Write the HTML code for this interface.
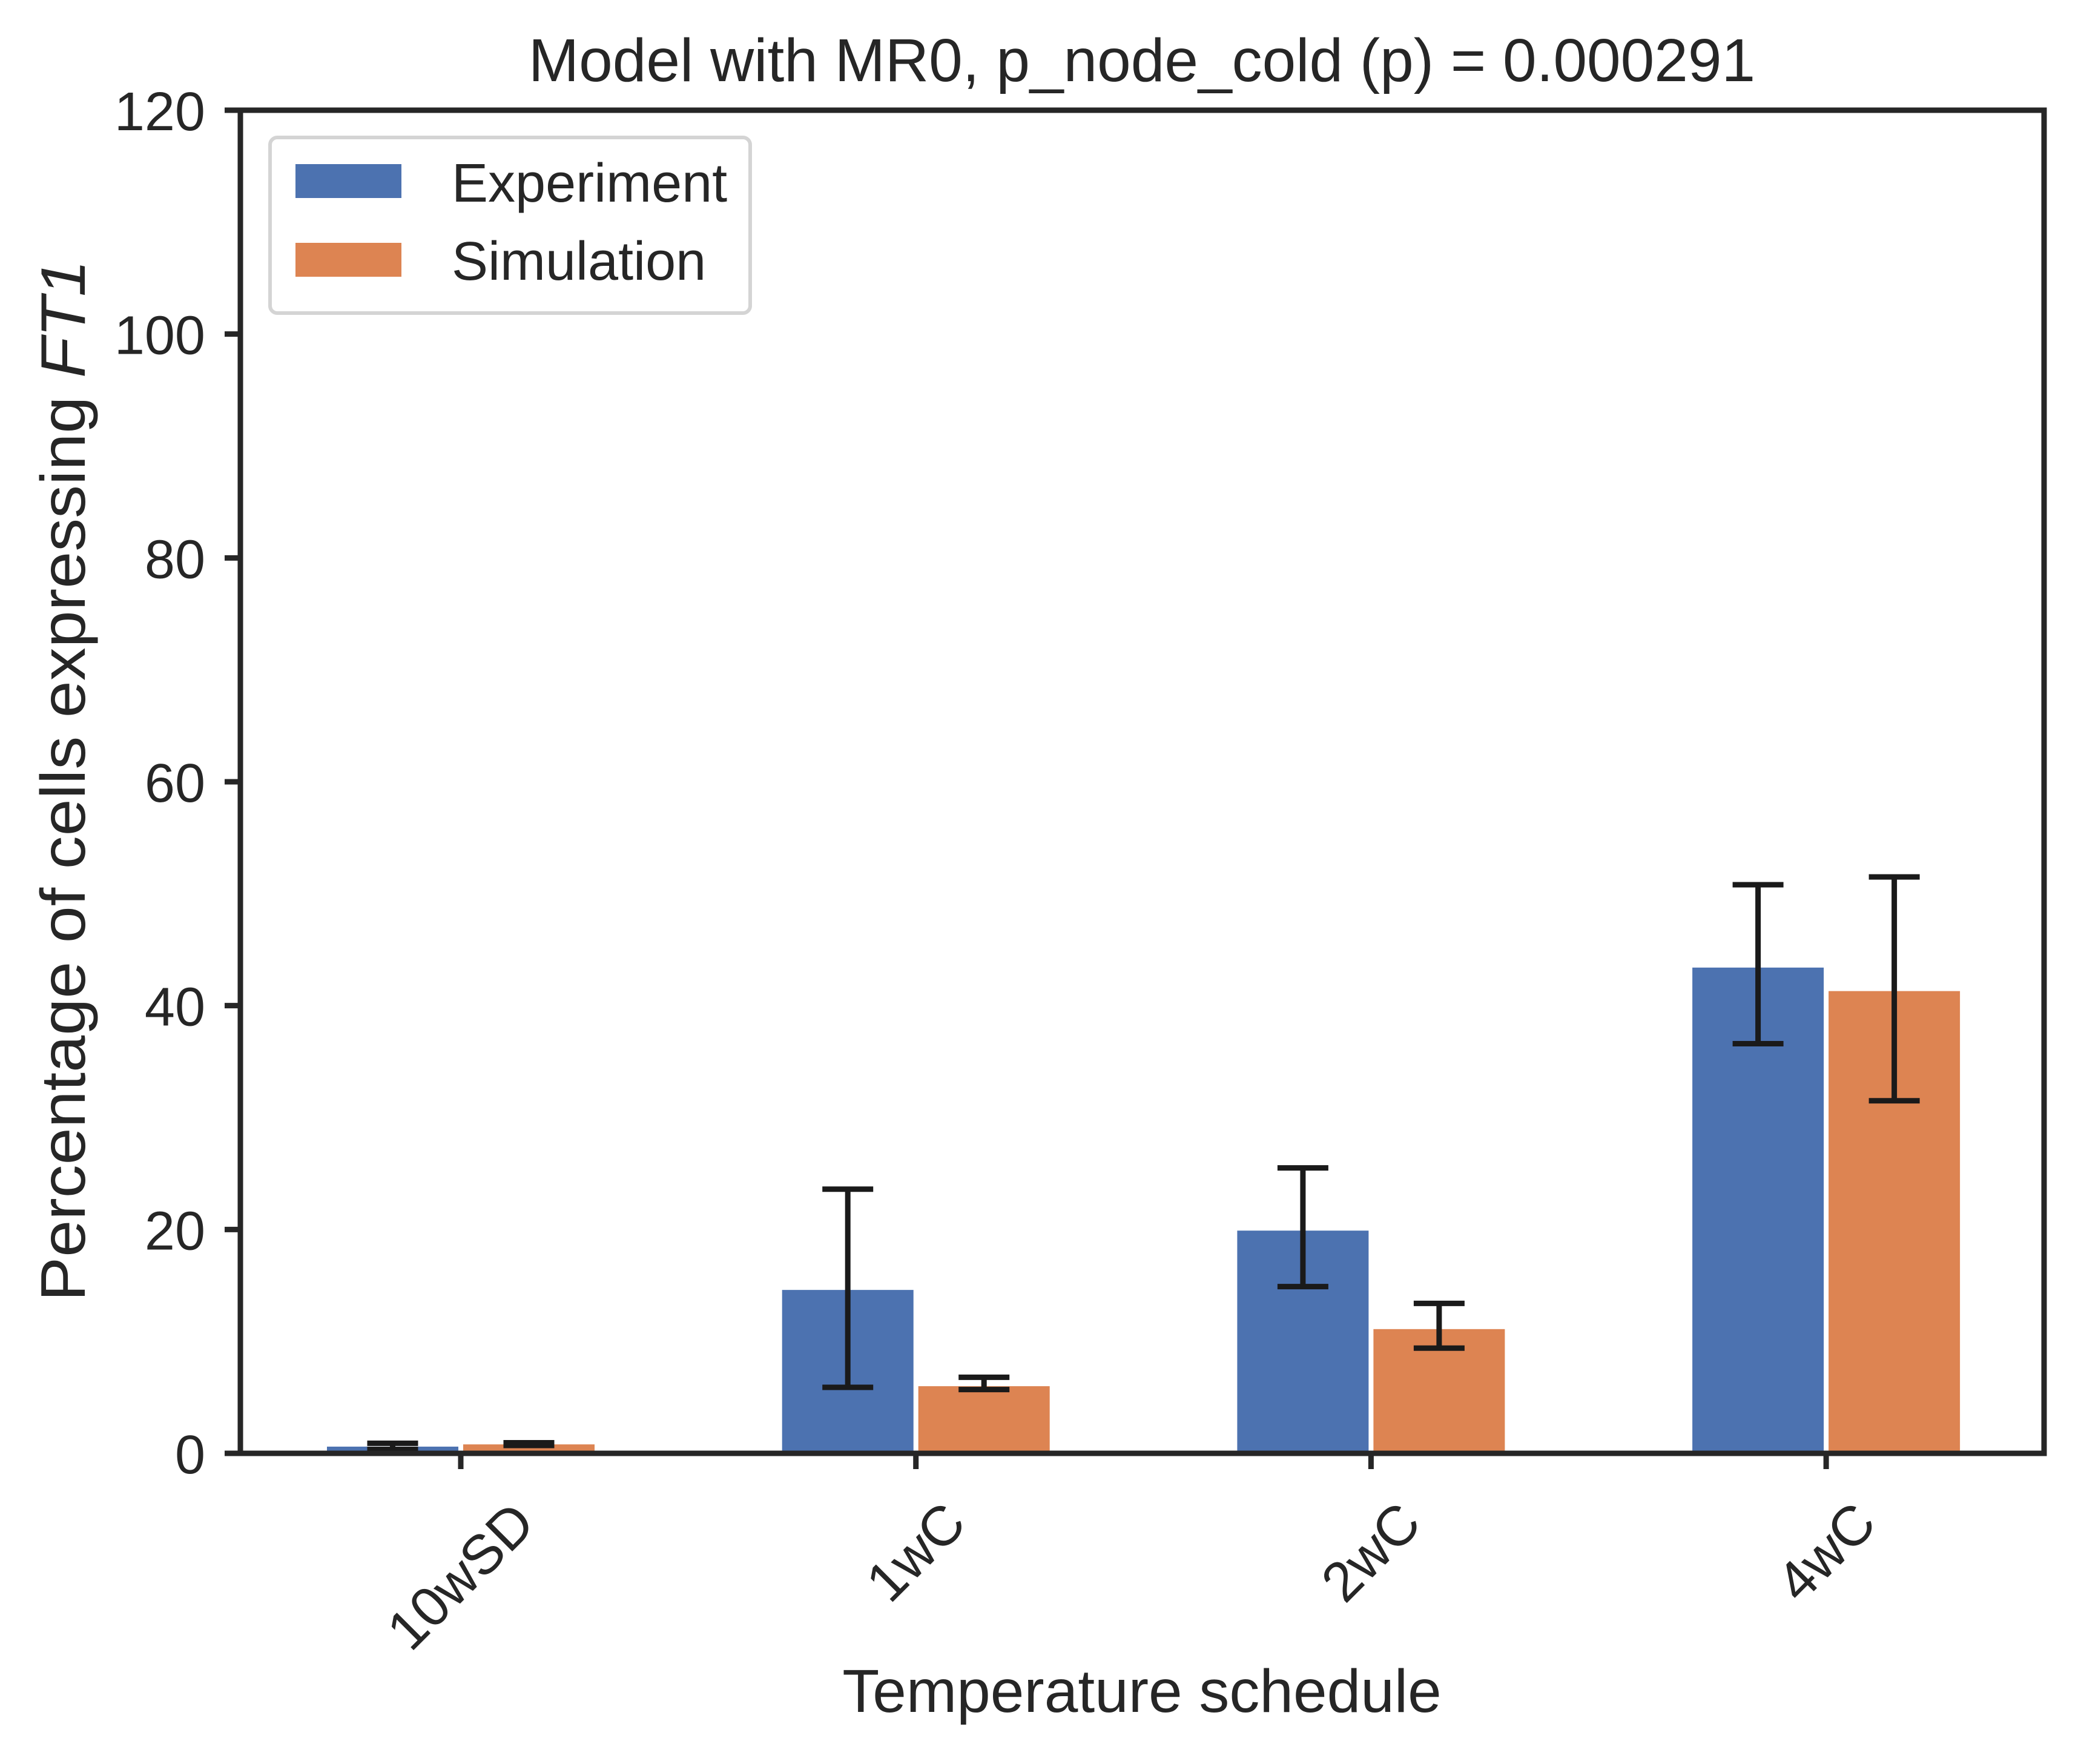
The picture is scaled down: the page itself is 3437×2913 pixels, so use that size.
<!DOCTYPE html>
<html><head><meta charset="utf-8"><style>
html,body{margin:0;padding:0;background:#fff}
svg text{font-family:"Liberation Sans",Arial,sans-serif;fill:#262626}
</style></head><body>
<svg id="chart" width="3437" height="2908" viewBox="0 0 3437 2908" xmlns="http://www.w3.org/2000/svg">
<rect width="3437" height="2908" fill="#fff"/>
<g id="bars"></g>
<g id="errs"></g>
<g id="yticks"></g>
<g id="xticks"></g>
<rect x="397" y="182" width="2979" height="2218" fill="none" stroke="#262626" stroke-width="9"/>
<text x="1886" y="134" font-size="100" text-anchor="middle">Model with MR0, p_node_cold (p) = 0.000291</text>
<text x="1886" y="2827" font-size="100" text-anchor="middle">Temperature schedule</text>
<text transform="translate(140,1289) rotate(-90)" font-size="104" text-anchor="middle" textLength="1720" lengthAdjust="spacingAndGlyphs">Percentage of cells expressing <tspan font-style="italic">FT1</tspan></text>
<g>
<rect x="446" y="227" width="793" height="290" rx="12" fill="#fff" stroke="#d4d4d4" stroke-width="6"/>
<rect x="488" y="271" width="175" height="56" fill="#4c72b0"/>
<text x="746" y="333" font-size="90">Experiment</text>
<rect x="488" y="401" width="175" height="56" fill="#dd8452"/>
<text x="746" y="462" font-size="90">Simulation</text>
</g>
</svg>
<script>
const categories = ["10wSD", "1wC", "2wC", "4wC"];
const expValues = [0.6, 14.6, 19.9, 43.4];
const expLow = [0.35, 5.9, 14.9, 36.6];
const expHigh = [0.9, 23.6, 25.5, 50.8];
const simValues = [0.8, 6.0, 11.1, 41.3];
const simLow = [0.7, 5.7, 9.4, 31.5];
const simHigh = [0.95, 6.8, 13.4, 51.5];
const yTicks = [0, 20, 40, 60, 80, 100, 120];

const NS = "http://www.w3.org/2000/svg";
function yScale(v){ return 2400 - v * (2218/120); }
function xScale(i){ return 761 + i * 751.7; }
function mk(tag, attrs, parent){
  const el = document.createElementNS(NS, tag);
  for (const k in attrs) el.setAttribute(k, attrs[k]);
  parent.appendChild(el);
  return el;
}
const bars = document.getElementById('bars');
const errs = document.getElementById('errs');
const series = [
  {name:'experiment', vals:expValues, lo:expLow, hi:expHigh, color:'#4c72b0', off:-112.5},
  {name:'simulation', vals:simValues, lo:simLow, hi:simHigh, color:'#dd8452', off:112.5}
];
series.forEach(s => {
  categories.forEach((c, i) => {
    const cx = xScale(i) + s.off;
    const y = yScale(s.vals[i]);
    const r = mk('rect', {x: cx - 108.5, y: y, width: 217, height: 2400 - y, fill: s.color}, bars);
    
    
    const g = mk('g', {stroke: '#1a1a1a', 'stroke-width': 9}, errs);
    
    
    const yl = yScale(s.lo[i]), yh = yScale(s.hi[i]);
    mk('line', {x1: cx, x2: cx, y1: yl, y2: yh}, g);
    mk('line', {x1: cx - 42, x2: cx + 42, y1: yl, y2: yl, 'stroke-width': 9}, g);
    mk('line', {x1: cx - 42, x2: cx + 42, y1: yh, y2: yh, 'stroke-width': 9}, g);
  });
});
const yt = document.getElementById('yticks');
yTicks.forEach(t => {
  const y = yScale(t);
  const l = mk('line', {x1: 371, x2: 397, y1: y, y2: y, stroke: '#262626', 'stroke-width': 9}, yt);
  
  
  const tx = mk('text', {x: 339, y: y + 33, 'font-size': 90, 'text-anchor': 'end'}, yt);
  tx.textContent = t;
  
  
});
const xt = document.getElementById('xticks');
categories.forEach((c, i) => {
  const x = xScale(i);
  const l = mk('line', {x1: x, x2: x, y1: 2400, y2: 2426, stroke: '#262626', 'stroke-width': 9}, xt);
  
  
  const tx = mk('text', {x: 0, y: 0, 'font-size': 92, 'text-anchor': 'middle', 'dominant-baseline': 'central'}, xt);
  tx.textContent = c;
  
  
  let w = 92 * 0.55 * c.length;
  try { w = tx.getComputedTextLength() || w; } catch(e) {}
  const half = (w + 66) * 0.7071 / 2;
  tx.setAttribute('transform', 'translate(' + x + ',' + (2475 + half) + ') rotate(-45)');
});
</script>
</body></html>
